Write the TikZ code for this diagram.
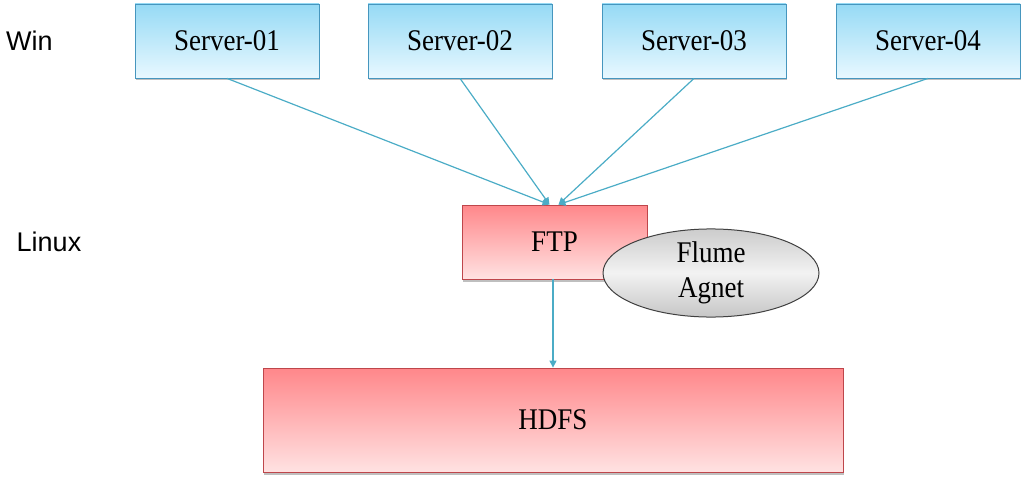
\documentclass[tikz,border=0pt]{standalone}
\usepackage{fontspec}
\setmainfont{Liberation Serif}
\setsansfont{Liberation Sans}
\usetikzlibrary{shapes.geometric,shadows,arrows.meta}
\definecolor{lnc}{RGB}{75,172,198}
\definecolor{srvtop}{RGB}{150,218,245}
\definecolor{srvbot}{RGB}{232,248,255}
\definecolor{srvbd}{RGB}{70,150,190}
\definecolor{redtop}{RGB}{255,135,138}
\definecolor{redbot}{RGB}{255,226,226}
\definecolor{redbd}{RGB}{190,70,75}
\newcommand{\stxt}[1]{\scalebox{0.9}[1]{\fontsize{30}{36}\selectfont #1}}
\tikzset{
  srvbox/.style={draw=srvbd, line width=0.8pt, top color=srvtop, bottom color=srvbot,
    minimum width=184pt, minimum height=74pt, inner sep=0pt,
    drop shadow={shadow xshift=1pt, shadow yshift=-2.5pt, opacity=0.5, fill=gray}},
  redbox/.style={draw=redbd, line width=0.8pt, top color=redtop, bottom color=redbot,
    inner sep=0pt,
    drop shadow={shadow xshift=1pt, shadow yshift=-2.5pt, opacity=0.5, fill=gray}},
  agent/.style={ellipse, draw=black!75, line width=1pt, top color=gray!40, bottom color=gray!45,
    middle color=gray!10, minimum width=216pt, minimum height=80pt, inner sep=0pt,
    align=center, font=\fontsize{30}{35}\selectfont},
  conn/.style={draw=lnc, line width=1.2pt, -{Triangle[length=7pt,width=7pt]}},
  oslabel/.style={font=\sffamily\fontsize{27}{32}\selectfont, inner sep=0pt}
}
\begin{document}
\begin{tikzpicture}[x=1pt,y=-1pt]
\useasboundingbox (0,0) rectangle (1032,481);
\node[oslabel, anchor=west] (win) at (6,41) {Win};
\node[oslabel] (linux) at (49,242) {Linux};

\node[srvbox] (s1) at (227,41) {\stxt{Server-01}};
\node[srvbox] (s2) at (460,41) {\stxt{Server-02}};
\node[srvbox] (s3) at (694,41) {\stxt{Server-03}};
\node[srvbox] (s4) at (928,41) {\stxt{Server-04}};

\node[redbox, minimum width=185pt, minimum height=74pt] (ftp) at (554.5,242) {\stxt{FTP}};
\node[redbox, minimum width=580pt, minimum height=104pt] (hdfs) at (553,420) {\stxt{HDFS}};
\node[agent] (flume) at (711,273) {\scalebox{0.9}[1]{Flume}\\\scalebox{0.9}[1]{Agnet}};

\coordinate (inL) at ([xshift=-5pt]ftp.north);
\coordinate (inR) at ([xshift=4pt]ftp.north);
\draw[conn] (s1.south) -- (inL);
\draw[conn] (s2.south) -- (inL);
\draw[conn] (s3.south) -- (inR);
\draw[conn] (s4.south) -- (inR);
\draw[conn] ([xshift=-1.5pt]ftp.south) -- (hdfs.north);
\end{tikzpicture}
\end{document}
